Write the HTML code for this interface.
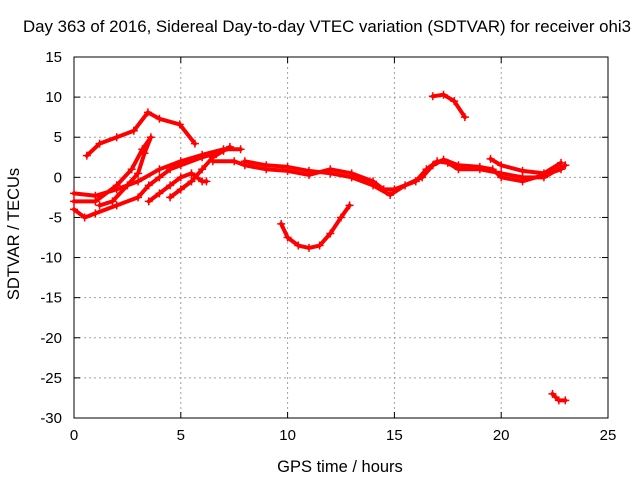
<!DOCTYPE html>
<html><head><meta charset="utf-8"><style>
body{margin:0;background:#fff;}
svg text{font-family:"Liberation Sans",sans-serif;font-size:15px;fill:#000;}
svg text.big{font-size:16.5px;}
</style></head><body>
<svg id="chart" width="640" height="480" xmlns="http://www.w3.org/2000/svg">
<rect width="640" height="480" fill="#fff"/>
<g id="grid"></g><g id="axes"></g><g id="series"></g>
<text class="big" x="327" y="32" text-anchor="middle" textLength="608" lengthAdjust="spacingAndGlyphs">Day 363 of 2016, Sidereal Day-to-day VTEC variation (SDTVAR) for receiver ohi3</text>
<text class="big" x="340" y="472" text-anchor="middle">GPS time / hours</text>
<text class="big" transform="translate(19,234) rotate(-90)" text-anchor="middle">SDTVAR / TECUs</text>
</svg>
<script>
const xTicks=[0,5,10,15,20,25];
const yTicks=[15,10,5,0,-5,-10,-15,-20,-25,-30];
const trackA=[[0.6,2.7],[1.2,4.2],[2,5],[2.8,5.8],[3.46,8.1],[4,7.3],[4.95,6.6],[5.66,4.2]];
const trackB=[[0,-2],[1,-2.3],[2,-1.5],[3,-0.5],[4,1],[5,2],[6,2.8],[7,3.5],[7.8,3.5]];
const trackC=[[0,-4],[0.5,-5],[1,-4.5],[2,-3.5],[3,-2.5],[3.5,-1],[4,0],[4.5,1],[5,1.5],[6,2.5],[7,3.3]];
const trackD=[[0,-3],[1,-3],[2,-1],[2.7,1],[3.2,3.5],[3.6,5],[3.3,3],[3,0.5],[2.5,-1],[1.8,-3],[1.2,-3.5]];
const trackE=[[3.5,-3],[4,-2],[4.5,-1],[5,0],[5.5,0.5],[6,-0.5],[6.2,-0.5]];
const trackF=[[4.5,-2.5],[5,-1.5],[5.5,-0.5],[6,1],[6.5,2.5],[7.3,3.8]];
const trackG=[[6.5,2],[7.5,2],[8,1.5],[9,1],[10,0.8],[11,0.3],[12,1],[13,0.5],[14,-0.5],[14.5,-1.5],[15,-1.5],[16,-0.5],[16.5,1],[17,2],[17.5,1.8],[18,1],[19,1],[20,0.5],[21,0],[22,0],[23,1.5]];
const trackH=[[8,2],[9,1.5],[10,1.3],[11,0.8],[12,0.5],[13,0],[14,-1],[14.8,-2.2],[15.5,-1],[16.3,0],[16.8,1.5],[17.3,2.2],[18,1.5],[19,1.3],[19.6,1],[20,0],[21,-0.5],[22,0.3],[22.8,1]];
const trackI=[[19.5,2.3],[20,1.5],[21,0.8],[22,0.5],[22.8,1.8]];
const trackJ=[[9.7,-5.8],[10,-7.5],[10.5,-8.5],[11,-8.8],[11.5,-8.5],[12,-7],[12.5,-5],[12.9,-3.5]];
const trackK=[[16.8,10.1],[17.3,10.3],[17.8,9.5],[18.3,7.5]];
const trackL=[[22.4,-27],[22.7,-27.8],[23,-27.8]];
const tracks=[trackA,trackB,trackC,trackD,trackE,trackF,trackG,trackH,trackI,trackJ,trackK,trackL];
const X0=74,X1=608,Y0=57,Y1=418,xmin=0,xmax=25,ymin=-30,ymax=15;
const sx=v=>X0+(v-xmin)/(xmax-xmin)*(X1-X0);
const sy=v=>Y1-(v-ymin)/(ymax-ymin)*(Y1-Y0);
const NS='http://www.w3.org/2000/svg';
function mk(tag,attrs,parent){const e=document.createElementNS(NS,tag);for(const k in attrs)e.setAttribute(k,attrs[k]);parent.appendChild(e);return e;}
const grid=document.getElementById('grid'),axes=document.getElementById('axes'),series=document.getElementById('series');
xTicks.forEach(t=>{const x=sx(t);
 if(t>xmin&&t<xmax){const g=mk('line',{x1:x,x2:x,y1:Y0,y2:Y1,stroke:'#a0a0a0','stroke-dasharray':'2,3'},grid);}
 mk('line',{x1:x,x2:x,y1:Y1,y2:Y1-6,stroke:'#000'},axes);mk('line',{x1:x,x2:x,y1:Y0,y2:Y0+6,stroke:'#000'},axes);
 const l=mk('text',{x:x,y:Y1+22,'text-anchor':'middle'},axes);l.textContent=t;
 
 });
yTicks.forEach(t=>{const y=sy(t);
 if(t>ymin&&t<ymax){const g=mk('line',{x1:X0,x2:X1,y1:y,y2:y,stroke:'#a0a0a0','stroke-dasharray':'2,3'},grid);}
 mk('line',{x1:X0,x2:X0+6,y1:y,y2:y,stroke:'#000'},axes);mk('line',{x1:X1,x2:X1-6,y1:y,y2:y,stroke:'#000'},axes);
 const l=mk('text',{x:X0-12,y:y+5,'text-anchor':'end'},axes);l.textContent=t;
 
 });
const frame=mk('rect',{x:X0,y:Y0,width:X1-X0,height:Y1-Y0,fill:'none',stroke:'#000'},axes);


tracks.forEach((tr,i)=>{
 const p=mk('polyline',{points:tr.map(d=>sx(d[0])+','+sy(d[1])).join(' '),fill:'none',stroke:'#f00','stroke-width':4,'stroke-linejoin':'round','stroke-linecap':'round'},series);
 
 
 tr.forEach(d=>{const x=sx(d[0]),y=sy(d[1]);
  const m=mk('path',{d:`M${x-4},${y}H${x+4}M${x},${y-4}V${y+4}`,stroke:'#f00','stroke-width':1.5},series);
  
  });
});
</script>
</body></html>
